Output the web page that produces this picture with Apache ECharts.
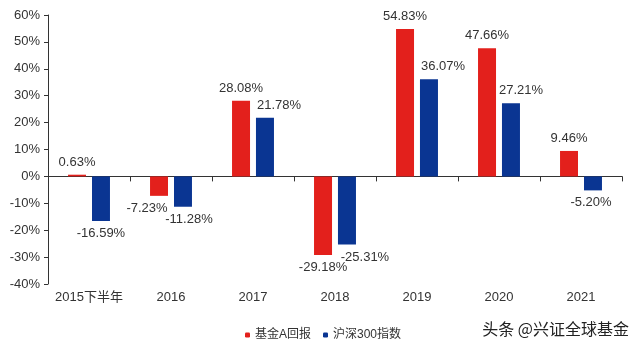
<!DOCTYPE html>
<html>
<head>
<meta charset="utf-8">
<script src="https://cdn.jsdelivr.net/npm/echarts@6/dist/echarts.min.js"></script>
<style>
  html, body { margin: 0; padding: 0; background: #fff; }
  #chart { width: 640px; height: 352px; }
</style>
</head>
<body>
<div id="chart"></div>
<script>
const categories = ['2015下半年', '2016', '2017', '2018', '2019', '2020', '2021']
const fundA = [0.63, -7.23, 28.08, -29.18, 54.83, 47.66, 9.46]
const hs300 = [-16.59, -11.28, 21.78, -25.31, 36.07, 27.21, -5.20]
const seriesNames = ['基金A回报', '沪深300指数']

// horizontal nudges of the value labels, as placed in the original
const fundLabelDx = [0, -12, 0, 0, 0, 0, 0]
const hsLabelDx = [0, 6, 14, 18, 14, 10, -2]

const font = '"Liberation Sans", Arial, "Noto Sans CJK SC", sans-serif'

const chart = echarts.init(document.getElementById('chart'))

function barData(values, dx) {
  return values.map(function(v, i) {
    return { value: v, label: { offset: [dx[i], 0] } }
  })
}

function barLabel() {
  return {
    show: true,
    position: 'outside',
    distance: 6,
    color: '#333',
    fontSize: 13,
    fontFamily: font,
    formatter: function(p) {
      return p.value.toFixed(2) + '%'
    }
  }
}

chart.setOption({
  backgroundColor: '#fff',
  animation: false,
  textStyle: { fontFamily: font },
  grid: { left: 48, right: 18, top: 15, bottom: 68 },
  legend: {
    left: 240,
    top: 324,
    itemWidth: 5,
    itemHeight: 5,
    itemGap: 12,
    textStyle: { color: '#333', fontSize: 12, fontFamily: font },
    data: seriesNames
  },
  xAxis: [
    {
      type: 'category',
      data: categories,
      axisLine: { onZero: true, lineStyle: { color: '#333' } },
      axisTick: { show: true, length: 5, lineStyle: { color: '#333' } },
      axisLabel: { show: false }
    },
    {
      type: 'category',
      data: categories,
      position: 'bottom',
      axisLine: { show: false },
      axisTick: { show: false },
      axisLabel: { interval: 0, color: '#333', fontSize: 13, margin: 7, fontFamily: font }
    }
  ],
  yAxis: {
    type: 'value',
    min: -40,
    max: 60,
    interval: 10,
    splitLine: { show: false },
    axisLine: { show: true, lineStyle: { color: '#333' } },
    axisTick: { show: true, length: 4, lineStyle: { color: '#333' } },
    axisLabel: {
      color: '#333',
      fontSize: 13,
      margin: 8,
      fontFamily: font,
      formatter: '{value}%'
    }
  },
  graphic: [{
    type: 'text',
    right: 11,
    top: 321,
    style: {
      text: '头条 @兴证全球基金',
      fill: '#222',
      fontSize: 16,
      fontFamily: '"Noto Sans CJK SC", sans-serif'
    }
  }],
  series: [
    {
      name: seriesNames[0],
      type: 'bar',
      xAxisIndex: 0,
      data: barData(fundA, fundLabelDx),
      barWidth: 18,
      barGap: '33%',
      itemStyle: { color: '#E3201C' },
      label: barLabel()
    },
    {
      name: seriesNames[1],
      type: 'bar',
      xAxisIndex: 0,
      data: barData(hs300, hsLabelDx),
      barWidth: 18,
      barGap: '33%',
      itemStyle: { color: '#0A3592' },
      label: barLabel()
    }
  ]
})
</script>
</body>
</html>
